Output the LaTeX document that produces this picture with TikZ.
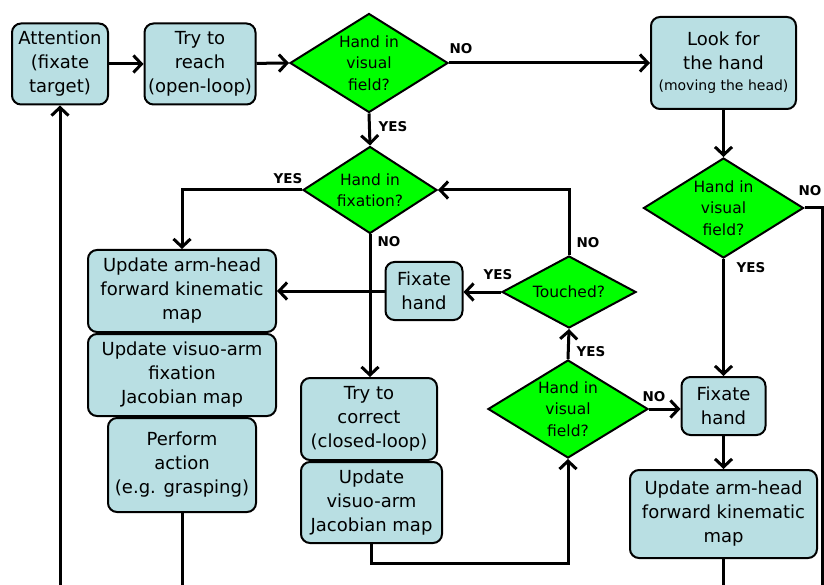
\documentclass[tikz,border=0pt]{standalone}
\usepackage{fontspec}
\setmainfont{DejaVu Sans}
\usetikzlibrary{shapes.geometric,arrows.meta}

\definecolor{boxblue}{HTML}{B9DFE3}
\definecolor{decgreen}{HTML}{00FF00}

\tikzset{
  box/.style={draw, line width=2pt, rounded corners=9pt, fill=boxblue,
    align=center, inner sep=1pt, font=\fontsize{18}{24}\selectfont},
  decision/.style={diamond, draw, line width=2pt, fill=decgreen, inner sep=0pt},
  dtext/.style={align=center, font=\fontsize{15.5}{21.5}\selectfont},
  flow/.style={line width=3pt, -{Straight Barb[length=8pt,width=17pt,line width=3pt]}},
  wire/.style={line width=3pt},
  yn/.style={font=\bfseries\fontsize{13.5}{13.5}\selectfont, inner sep=0pt}
}

\begin{document}
\begin{tikzpicture}[x=1pt,y=-1pt]
\useasboundingbox (0,0) rectangle (824,585);

% top row
\node[box, minimum width=96, minimum height=81] (att) at (60,64) {Attention\\(fixate\\target)};
\node[box, minimum width=111, minimum height=81] (reach) at (200,64) {Try to\\reach\\(open-loop)};
\node[decision, minimum width=158, minimum height=99,
  label={[dtext]center:{Hand in\\visual\\field?}}] (q1) at (369,63) {};
\node[box, minimum width=145, minimum height=92] (look) at (723.5,63)
  {Look for\\the hand\\[-3pt]{\fontsize{14}{16}\selectfont(moving the head)}};

% right column
\node[decision, minimum width=160, minimum height=100,
  label={[dtext]center:{Hand in\\visual\\field?}}] (qr) at (723.5,208) {};
\node[box, minimum width=84, minimum height=58] (fixR) at (723.5,406) {Fixate\\hand};
\node[box, minimum width=187, minimum height=88] (armR) at (723.5,514) {Update arm-head\\forward kinematic\\map};

% middle
\node[decision, minimum width=134, minimum height=87,
  label={[dtext]center:{Hand in\\fixation?}}] (qfix) at (370,190) {};
\node[decision, minimum width=134, minimum height=72,
  label={[dtext]center:{Touched?}}] (touch) at (569,292) {};
\node[decision, minimum width=160, minimum height=98,
  label={[dtext]center:{Hand in\\visual\\field?}}] (qmid) at (568,409) {};
\node[box, minimum width=77, minimum height=58] (fixM) at (424,291) {Fixate\\hand};
\node[box, minimum width=136, minimum height=82] (tryc) at (369,419) {Try to\\correct\\(closed-loop)};
\node[box, minimum width=141, minimum height=81] (visjac) at (371.5,502.5) {Update\\visuo-arm\\Jacobian map};

% left column
\node[box, minimum width=188, minimum height=82] (armL) at (182,291) {Update arm-head\\forward kinematic\\map};
\node[box, minimum width=188, minimum height=82] (visfix) at (182,375) {Update visuo-arm\\fixation\\Jacobian map};
\node[box, minimum width=148, minimum height=94] (act) at (182,465) {Perform\\action\\(e.g. grasping)};

% loose ends below the frame
\coordinate (retA) at (60,600);
\coordinate (outR) at (822,600);
\coordinate (loop) at (371.5,563);

% connectors
\draw[flow] (att) -- (reach);
\draw[flow] (reach) -- (q1.west);
\draw[flow] (q1.east) -- (q1.east -| look.west);
\draw[flow] (q1.south) -- (qfix.north);
\draw[flow] (look.south) -- (qr.north);
\draw[wire] (qr.east) -| (outR);
\draw[flow] (qr.south) -- (fixR.north);
\draw[flow] (fixR.south) -- (armR.north);
\draw[wire] (armR.south) -- (armR.south |- outR);
\draw[flow] (qfix.west) -| (armL.north);
\draw[flow] (qfix.south) -- (qfix.south |- tryc.north);
\draw[flow] (visjac.south) -- (loop) -| (qmid.south);
\draw[flow] (qmid.north) -- (touch.south);
\draw[flow] (qmid.east) -- (qmid.east -| fixR.west);
\draw[flow] (touch.west) -- (touch.west -| fixM.east);
\draw[flow] (touch.north) |- (qfix.east);
\draw[flow] (fixM.west) -- (fixM.west -| armL.east);
\draw[wire] (act.south) -- (act.south |- retA);
\draw[flow] (retA) -- (att.south);

% branch labels
\node[yn] at (461,49) {NO};
\node[yn] at (393,127) {YES};
\node[yn] at (810,191) {NO};
\node[yn] at (751,268) {YES};
\node[yn] at (288,179) {YES};
\node[yn] at (389,242) {NO};
\node[yn] at (588,243) {NO};
\node[yn] at (498,275) {YES};
\node[yn] at (591,352) {YES};
\node[yn] at (654,397) {NO};
\end{tikzpicture}
\end{document}
